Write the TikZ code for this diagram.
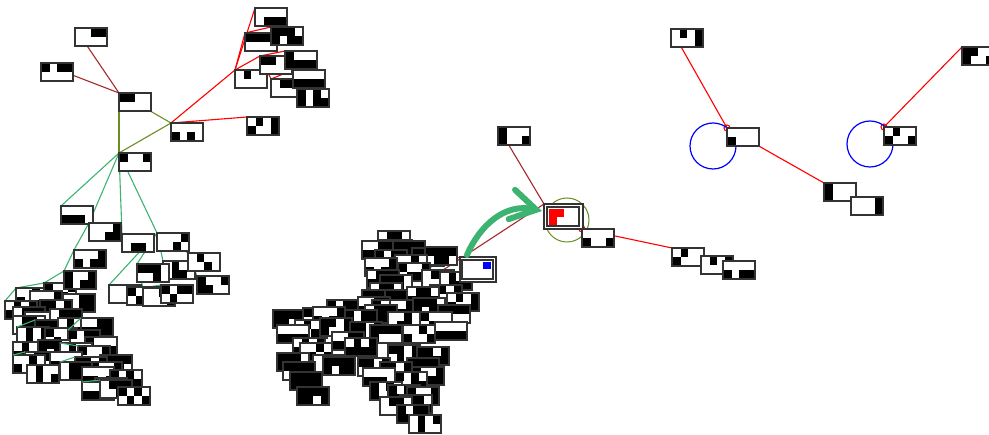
\documentclass[tikz,border=0pt]{standalone}
\usetikzlibrary{arrows.meta}
\pgfdeclarelayer{bg}
\pgfsetlayers{bg,main}
\definecolor{ebrown}{HTML}{A52A2A}
\definecolor{eolive}{HTML}{6B8E23}
\definecolor{egreen}{HTML}{3CB371}
\definecolor{bord}{HTML}{333333}
\tikzset{
  boxst/.style={draw=bord, line width=1.3pt, fill=white, minimum width=32pt,
    minimum height=18pt, inner sep=0pt, outer sep=0pt, anchor=north west, shape=rectangle},
  ered/.style={draw=red, line width=1.1pt},
  ebr/.style={draw=ebrown, line width=1.1pt},
  eol/.style={draw=eolive, line width=1.1pt},
  egr/.style={draw=egreen, line width=1.1pt},
  ring/.style={line width=1.2pt},
  cellfill/.style={fill=black}
}
\newcommand\bx[4]{%
  \node[boxst] (#1) at (#2,#3) {};
  \foreach \c in {#4}{%
    \pgfmathtruncatemacro\cc{mod(\c,4)}%
    \pgfmathtruncatemacro\rr{\c/4}%
    \fill[cellfill] (#2+1+7.5*\cc,#3+1+8*\rr) rectangle ++(7.5,8);
  }%
}
\newcommand\rbx[4]{%
  \node[boxst] (#1) at (#2,#3) {};
  \foreach \c in {0,...,7}{%
    \pgfmathtruncatemacro\bit{rnd<#4}%
    \ifnum\bit=1
      \pgfmathtruncatemacro\cc{mod(\c,4)}%
      \pgfmathtruncatemacro\rr{\c/4}%
      \fill[cellfill] (#2+1+7.5*\cc,#3+1+8*\rr) rectangle ++(7.5,8);
    \fi
  }%
}
\begin{document}
\begin{tikzpicture}[x=1pt,y=-1pt]
\useasboundingbox (0,0) rectangle (989,435);
\pgfmathsetseed{11}
% ---------- top-left tree ----------
\bx{A}{75}{28}{2,3}
\bx{B}{41}{63}{0,2,3}
\bx{C}{119}{93}{0,1}
\bx{D}{171}{123}{4,6}
\bx{E}{119}{153}{0,3}
\bx{F}{247}{117}{1,3,4,7}
\bx{G}{255}{8}{5,6,7}
\bx{H}{245}{33}{0,1,2,3}
\bx{I}{271}{27}{0,1,2,4,6,7}
\bx{J}{235}{70}{1}
\bx{K}{260}{56}{0,1,3}
\bx{L}{285}{51}{0,4,5,6,7}
\bx{M}{271}{79}{1,2}
\bx{N}{293}{70}{4,5,6,7}
\bx{O}{297}{89}{0,2,4,6,7}
% ---------- lower tree ----------
\bx{P}{61}{206}{4,5,6}
\bx{Q}{89}{223}{3,6,7}
\bx{R}{122}{234}{5,6}
\bx{S}{157}{233}{3,6}
\bx{T}{74}{250}{3,4,6,7}
\bx{V}{163}{261}{1,5,6}
\bx{U}{188}{253}{1,6}
\bx{W}{137}{264}{0,1,2,6}
\bx{X}{197}{276}{0,3,4,5}
\bx{Z}{109}{285}{7}
\bx{AA}{127}{287}{0,5}
\bx{AB}{143}{288}{2,7}
\bx{AC}{161}{285}{0,2,3,5}
% ---------- lower-left dense cluster ----------
\foreach \n/\x/\y in {L1/16/288, L2/44/283, L3/30/291, L4/5/301, L5/63/294,
  L6/40/300, L7/13/307, L8/25/312, L9/50/309, L12/13/316, L13/35/320,
  L14/58/318, L15/81/318, L16/17/327, L17/45/328, L18/68/330, L19/85/337,
  L20/13/342, L21/38/340, L22/60/343, L23/78/346, L24/25/352, L25/50/352,
  L26/100/355, L27/75/357, L28/13/355, L29/90/362, L30/27/365, L31/60/362,
  L32/82/367, L33/110/370, L34/95/378, L35/82/382, L36/100/380, L37/118/387}
  {\rbx{\n}{\x}{\y}{0.5}}
\bx{Y}{64}{271}{0,3,4,6,7}
% ---------- centre dense cluster ----------
\foreach \n/\x/\y in {C1/378/231, C48/380/240, C2/362/241, C3/393/241, C4/412/248,
  C5/425/247, C49/375/250, C63/395/255, C6/365/258, C7/398/263, C8/367/270,
  C50/380/275, C9/422/270, C10/440/272, C64/430/285, C11/370/283, C65/362/290,
  C51/385/290, C12/407/287, C13/447/293,
  C14/327/300, C15/358/297, C52/372/300, C16/273/310, C17/303/308, C18/313/307,
  C19/390/300, C20/413/298, C21/438/305, C66/365/305, C53/345/310, C54/295/320,
  C55/320/318, C56/350/322, C57/388/312, C58/420/312, C22/435/322, C23/277/325,
  C47/370/325, C46/403/325, C32/332/332, C24/293/338, C33/345/338, C25/300/343,
  C59/388/345, C44/417/347, C26/277/353, C30/313/355, C31/323/357, C34/358/358,
  C40/407/358, C27/283/362, C43/380/362, C35/363/368, C41/412/367, C28/290/372,
  C60/395/372, C36/370/382, C61/388/385, C29/297/387, C42/407/387, C62/400/395,
  C37/380/397, C38/397/405, C39/409/415}
  {\rbx{\n}{\x}{\y}{0.58}}
% ---------- centre special nodes ----------
\node[boxst, minimum width=36pt, minimum height=25pt] (bb) at (460,257) {};
\node[boxst, minimum width=31pt, minimum height=19pt] (bbi) at (462,260) {};
\fill[blue] (483,262) rectangle ++(7.5,7.5);
\bx{top}{498}{127}{0,4,7}
\node[boxst, minimum width=39pt, minimum height=25pt] (rt) at (544,204) {};
\node[boxst, minimum width=32pt, minimum height=19pt] (rti) at (547,207) {};
\fill[red] (549,209) rectangle ++(15,8);
\fill[red] (549,217) rectangle ++(7.5,8);
\bx{s1}{582}{229}{4,7}
\bx{r1}{672}{248}{1,4}
\bx{r2}{701}{256}{1,3}
\bx{r3}{723}{261}{4,6,7}
% ---------- right part ----------
\bx{t1}{671}{29}{1,3,7}
\bx{t2}{727}{128}{4}
\bx{t3}{824}{183}{0,4}
\bx{t4}{851}{197}{3,7}
\bx{t5}{884}{127}{1,4,7}
\bx{t6}{962}{47}{0,1,4,7}
% ---------- arrow ----------
\coordinate (as) at (467,255);
\coordinate (ae) at (542,211);
\draw[egreen, line width=6pt, line cap=round,
  -{Straight Barb[length=25pt,width=30pt,line cap=round]}]
  (as) .. controls (480,225) and (505,203) .. (ae);
% a few edges visible on top of the lower-left cluster
\draw[egr] (L16.north west) -- (L13.north west);
\draw[egr] (L28.north west) -- (L24.north west);
\draw[egr] (L31.north west) -- (L27.north west);
\draw[egr] (L35.north west) -- (L36.north west);
\draw[egr] (L22.north west) -- (L23.north west);
\draw[egr] (L18.north west) -- (L15.north west);
% ---------- background: edges and rings ----------
\begin{pgfonlayer}{bg}
\fill[white] (0,0) rectangle (989,435);
\draw[ebr] (A.north west) -- (C.north west);
\draw[ebr] (B.north west) -- (C.north west);
\draw[eol] (C.north west) -- (D.north west);
\draw[eol] (C.north west) -- (E.north west);
\draw[eol] (E.north west) -- (D.north west);
\draw[ered] (D.north west) -- (F.north west);
\draw[ered] (D.north west) -- (J.north west);
\draw[ered] (J.north west) -- (G.north west);
\draw[ered] (J.north west) -- (H.north west);
\draw[ered] (J.north west) -- (K.north west);
\draw[ered] (H.north west) -- (I.north west);
\draw[ered] (K.north west) -- (L.north west);
\draw[ered] (K.north west) -- (M.north west);
\draw[ered] (M.north west) -- (N.north west);
\draw[ered] (N.north west) -- (O.north west);
\draw[egr] (E.north west) -- (P.north west);
\draw[egr] (E.north west) -- (Q.north west);
\draw[egr] (Q.north west) -- (T.north west);
\draw[egr] (E.north west) -- (R.north west);
\draw[egr] (E.north west) -- (S.north west);
\draw[egr] (S.north west) -- (Z.north west);
\draw[egr] (S.north west) -- (W.north west);
\draw[egr] (S.north west) -- (V.north west);
\draw[egr] (S.north west) -- (U.north west);
\draw[egr] (U.north west) -- (X.north west);
\draw[egr] (W.north west) -- (AB.north west);
\draw[egr] (Z.north west) -- (AA.north west);
\draw[egr] (AB.north west) -- (AC.north west);
\draw[egr] (T.north west) -- (Y.north west);
\draw[egr] (Y.north west) -- (L2.north west);
\draw[egr] (L2.north west) -- (L1.north west);
\draw[egr] (L1.north west) -- (L4.north west);
\draw[egr] (L2.north west) -- (L5.north west);
\draw[egr] (L4.north west) -- (L7.north west);
\draw[egr] (L20.north west) -- (L30.north west);
\draw[ebr] (top.north west) -- (rt.north west);
\draw[ebr] (rt.north west) -- (C10.north west);
\draw[ered] (C9.north west) -- (bb.north west);
\draw[ered] (C4.north west) -- (C5.north west);
\draw[ered] (s1.north west) -- (r1.north west);
\draw[ered] (t1.north west) -- (t2.north west);
\draw[ered] (t2.north west) -- (t3.north west);
\draw[ered] (t5.north west) -- (t6.north west);
\draw[ered] (s1.north west) circle[radius=3pt];
\draw[ered] (t2.north west) circle[radius=3pt];
\draw[ered] (t5.north west) circle[radius=3pt];
\draw[eolive, line width=1pt] (567,220) circle[radius=22pt];
\draw[blue, ring] (713,146) circle[radius=23pt];
\draw[blue, ring] (870,144) circle[radius=23pt];
\end{pgfonlayer}
\end{tikzpicture}
\end{document}
